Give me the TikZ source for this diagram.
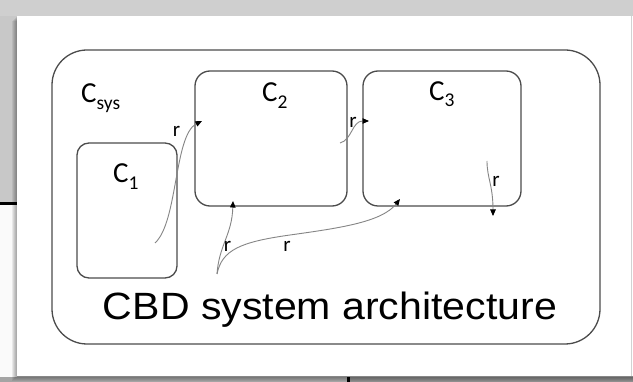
\documentclass[tikz,border=0pt]{standalone}
\usepackage{fontspec}
\usepackage{graphicx}
\setmainfont{Carlito}
\newfontfamily\titlefont{Liberation Sans}
\usetikzlibrary{arrows.meta}

\definecolor{bggray}{HTML}{C8C8C8}
\definecolor{bgtop}{HTML}{CFCFCF}
\definecolor{floorleft}{HTML}{A4A4A4}
\definecolor{floorright}{HTML}{8E8E8E}
\definecolor{boxline}{HTML}{4C4C4C}
\definecolor{flowgray}{HTML}{858585}

% component label: a capital C with a lowered index
\newcommand\complabel[1]{{\fontsize{29}{29}\selectfont C\raisebox{-6.5pt}{\fontsize{19.5}{19.5}\selectfont #1}}}

\begin{document}
\begin{tikzpicture}[x=1pt,y=-1pt,
  compbox/.style={draw=boxline, line width=1.3pt, rounded corners=#1,
                  inner sep=0pt, shape=rectangle},
  complbl/.style={anchor=base west, inner sep=0pt},
  rlbl/.style={anchor=base, inner sep=0pt, font=\fontsize{21}{21}\selectfont},
  flow/.style={draw=flowgray, line width=0.9pt,
               -{Triangle[length=6.5pt,width=5.5pt,color=black]}},
]
\useasboundingbox (0,0) rectangle (633,382);

% backdrop around the card
\fill[bggray] (0,0) rectangle (633,382);
\fill[bgtop] (0,0) rectangle (633,16);
\fill[white!96!gray] (0,204) rectangle (17,377);
\draw[black, line width=2.7pt] (0,203.5) -- (17,203.5);
\fill[floorleft] (0,377) rectangle (348,382);
\fill[floorright] (348,377) rectangle (633,382);
\fill[black] (347,377) rectangle (350,382);

% card with a soft shadow on the lower left
\foreach \s in {1,...,5}
  \fill[black, opacity=0.07] (17-\s,16+\s) rectangle (633,376+\s);
\fill[white] (17,16) rectangle (633,376);
\draw[gray!35, line width=0.8pt] (631.5,16) -- (631.5,376);

% system boundary and components
\node[compbox=35pt, minimum width=548pt, minimum height=294pt] (sys) at (326,197) {};
\node[compbox=12pt, minimum width=100pt, minimum height=135pt] (c1) at (127,210.5) {};
\node[compbox=15pt, minimum width=152pt, minimum height=135pt] (c2) at (271,138.5) {};
\node[compbox=15pt, minimum width=158pt, minimum height=135pt] (c3) at (442,138.5) {};

\node[complbl] (lsys) at (81,103) {\complabel{sys}};
\node[complbl] (l1) at (113,183) {\complabel{1}};
\node[complbl] (l2) at (262,102) {\complabel{2}};
\node[complbl] (l3) at (429,100.5) {\complabel{3}};

% ports
\coordinate (p1out) at (155,243);
\coordinate (p2in)  at (202,121);
\coordinate (p2out) at (340,143);
\coordinate (p3in)  at (369,121);
\coordinate (src)   at (217,274);
\coordinate (p2low) at (233,201);
\coordinate (p3low) at (400,199);
\coordinate (p3out) at (487,161);
\coordinate (sink)  at (493,216);

% required-interface connectors
\draw[flow] (p1out) .. controls (178,222) and (174,135) .. (p2in);
\draw[flow] (p2out) .. controls (352,140) and (352,121) .. (p3in);
\draw[flow] (src) .. controls (219,245) and (232,235) .. (p2low);
\draw[flow] (src) .. controls (222,250) and (240,242) .. (290,235)
                  .. controls (340,228) and (382,222) .. (p3low);
\draw[flow] (p3out) .. controls (487,178) and (493,185) .. (sink);

\node[rlbl] (r1) at (176.5,137) {r};
\node[rlbl] (r2) at (353,128) {r};
\node[rlbl] (r3) at (227.5,252) {r};
\node[rlbl] (r4) at (287,252) {r};
\node[rlbl] (r5) at (496,187) {r};

% caption inside the system boundary
\node[anchor=base, inner sep=0pt] (title) at (330,320)
  {\titlefont\fontsize{38}{40}\selectfont\resizebox{454pt}{\height}{CBD system architecture}};
\end{tikzpicture}
\end{document}
